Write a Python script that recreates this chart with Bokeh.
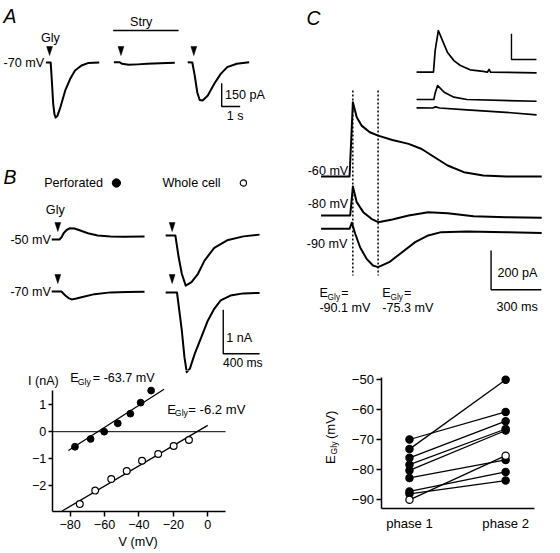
import math
from bokeh.plotting import figure
from bokeh.models import Range1d, Label, FixedTicker
from bokeh.layouts import row, column
from bokeh.embed import file_html
from bokeh.resources import INLINE

FONT = "Liberation Sans"
SX = 544 / 560  # reference-pixel -> screen-pixel scale (horizontal)
SY = 1.0        # vertical

# ---------------- data ----------------
# Panel A: glycine currents at -70 mV (time in s from trace start, current in pA from baseline)
a_ctrl_t = [0, 0.26, 0.32, 0.40, 0.47, 0.53, 0.62, 0.79, 1.05, 1.32, 1.58, 1.93, 2.28, 2.89]
a_ctrl_i = [0, 0, -110, -270, -335, -355, -345, -287, -180, -105, -51, -19, -4, 0]
a_stry_t = [0, 0.3, 0.45, 0.8, 1.3, 1.8, 2.5, 3.3]
a_stry_i = [0, 0, -10, -17, -14, -10, -6, -3]
a_wash_t = [0, 0.25, 0.38, 0.52, 0.65, 0.81, 1.09, 1.44, 1.79, 2.14, 2.66, 3.33]
a_wash_i = [0, -2, -85, -195, -243, -246, -215, -139, -75, -32, -10, 0]

# Panel B traces (time in ms, current in nA)
b_perf50_t = [0, 86, 110, 131, 164, 203, 249, 292, 399, 506, 648, 791, 1022]
b_perf50_i = [0, 0, 0.057, 0.143, 0.216, 0.257, 0.25, 0.22, 0.143, 0.091, 0.068, 0.064, 0.068]
b_perf70_t = [0, 107, 150, 185, 221, 271, 328, 471, 648, 826, 1022]
b_perf70_i = [0, 0, -0.09, -0.15, -0.18, -0.16, -0.13, -0.06, -0.02, -0.01, -0.007]
b_wc50_t = [0, 107, 143, 178, 221, 285, 356, 428, 535, 677, 856, 1034]
b_wc50_i = [0, 0, -0.49, -0.87, -1.14, -1.06, -0.87, -0.57, -0.28, -0.11, -0.02, 0.02]
b_wc70_t = [0, 125, 178, 207, 232, 267, 321, 392, 464, 535, 606, 713, 856, 1034]
b_wc70_i = [0, 0, -0.86, -1.47, -1.81, -1.73, -1.39, -1.02, -0.64, -0.37, -0.18, -0.07, -0.02, -0.01]

# Panel B I-V relation (mV, nA)
iv_perf_v = [-77.2, -68.1, -60.2, -52.3, -45.0, -39.0, -32.9]
iv_perf_i = [-0.56, -0.27, 0.0, 0.31, 0.67, 1.08, 1.53]
iv_wc_v = [-74.4, -65.4, -56.1, -47.1, -38.2, -28.8, -19.8, -10.9]
iv_wc_i = [-2.69, -2.19, -1.76, -1.46, -1.08, -0.83, -0.53, -0.31]
fit_perf_v = [-81.0, -25.4]
fit_perf_i = [-0.70, 1.58]
fit_wc_v = [-84.7, 0.0]
fit_wc_i = [-2.95, 0.234]
iv_xticks = [-80, -60, -40, -20, 0]
iv_yticks = [-2, -1, 0, 1]
iv_vlim = (-90.4, 10.4)
iv_ilim = (-2.97, 1.53)

# Panel C traces (time in ms, current in pA)
c60_t = [0, 170, 180, 190, 213, 242, 291, 341, 426, 523, 601, 678, 756, 853, 969, 1105, 1318]
c60_i = [0, 0, 183, 378, 302, 259, 225, 208, 186, 166, 140, 98, 56, 22, 5, 0, 0]
c80_t = [0, 174, 190, 213, 252, 301, 341, 426, 523, 640, 756, 911, 1105, 1318]
c80_i = [0, 0, 147, 68, 17, -17, -34, -20, 0, 17, 12, -4, -9, -12]
c90_t = [0, 170, 184, 204, 233, 272, 310, 341, 407, 484, 562, 640, 717, 872, 1105, 1318]
c90_i = [0, 0, 31, -25, -94, -153, -187, -195, -170, -119, -68, -34, -17, -14, -17, -22]
ins1_t = [0, 101, 111, 130, 155, 184, 223, 262, 320, 398, 423, 433, 443, 717]
ins1_i = [0, 0, 110, 212, 161, 102, 59, 34, 12, 4, 0, 14, 0, -3]
ins2_t = [0, 103, 112, 126, 165, 223, 301, 717]
ins2_i = [0, 0, 36, 71, 37, 12, 0, -9]
ins3_t = [0, 97, 114, 137, 301, 533, 717]
ins3_i = [0, -1, 5, -1, -11, -23, -36]

# Panel C summary: E_Gly (mV) in phase 1 and phase 2
phases = ["phase 1", "phase 2"]
egly_phase1 = [-73.1, -69.9, -76.0, -78.3, -80.2, -82.7, -87.2, -88.0, -90.0]
egly_phase2 = [-50.0, -60.7, -63.8, -66.4, -66.9, -76.7, -80.7, -83.6, -75.3]
egly_whole_cell = [False, False, False, False, False, False, False, False, True]
egly_yticks = [-90, -80, -70, -60, -50]
egly_xlim = (0.704, 2.303)
egly_ylim = (-93.0, -49.3)

TRACE_W = 2.0


# ---------------- helpers ----------------
class Panel:
    def __init__(self, w, h, rx0, ry0, xcal, ycal, axes=False):
        rw, rh = w / SX, h / SY
        self.rx0, self.ry0, self.rx1, self.ry1 = rx0, ry0, rx0 + rw, ry0 + rh
        xa, va, xb, vb = xcal
        ya, ua, yb, ub = ycal
        self.fx = lambda px: va + (px - xa) * (vb - va) / (xb - xa)
        self.fy = lambda py: ua + (py - ya) * (ub - ua) / (yb - ya)
        kw = {}
        if not axes:
            kw = dict(x_axis_location=None, y_axis_location=None)
        self.p = figure(width=w, height=h,
                        x_range=Range1d(self.fx(rx0), self.fx(rx0 + rw)),
                        y_range=Range1d(self.fy(ry0 + rh), self.fy(ry0)),
                        output_backend="svg", toolbar_location=None,
                        min_border=0, **kw)
        self.p.frame_align = False
        self.p.outline_line_color = None
        self.p.background_fill_color = "white"
        self.p.border_fill_color = "white"
        self.p.xgrid.visible = False
        self.p.ygrid.visible = False


def fs(size):
    return f"{size * SX:.1f}px"


def txt(P, px, py, s, size=13, align="left", style="normal", angle=0.0):
    P.p.add_layout(Label(x=P.fx(px), y=P.fy(py), text=s, text_font=FONT,
                         text_font_size=fs(size), text_font_style=style,
                         text_align=align, text_baseline="middle",
                         angle=angle, text_color="black"))


def seg(P, pts, lw=1.5, dash="solid"):
    P.p.line([P.fx(a) for a, b in pts], [P.fy(b) for a, b in pts],
             line_color="black", line_width=lw, line_dash=dash)


def trace(P, x0, base, t, i, lw=TRACE_W):
    ox, oy = P.fx(x0), P.fy(base)
    P.p.line([ox + v for v in t], [oy + v for v in i], line_color="black",
             line_width=lw, line_join="round")


def arrow(P, cx, tip):
    P.p.patch([P.fx(cx - 3), P.fx(cx + 3), P.fx(cx)],
              [P.fy(tip - 9), P.fy(tip - 9), P.fy(tip)],
              fill_color="black", line_color="black", line_width=0.5)


def style_axes(p, size=13):
    for ax in p.axis:
        ax.axis_line_color = "black"
        ax.axis_line_width = 1.5
        ax.major_tick_line_color = "black"
        ax.major_tick_line_width = 1.5
        ax.major_tick_in = 0
        ax.minor_tick_line_color = None
        ax.major_label_text_font = FONT
        ax.major_label_text_font_size = fs(size)
        ax.major_label_text_color = "black"


# ---------------- Panel A ----------------
A = Panel(272, 160, 0, 0, (227.7, 0, 246.7, 1), (106, 0, 82.7, 150))
trace(A, 46.7, 62, a_ctrl_t, a_ctrl_i)
trace(A, 116.7, 61.7, a_stry_t, a_stry_i)
trace(A, 192.7, 61.7, a_wash_t, a_wash_i)
for cx in (50.5, 124, 199):
    arrow(A, cx, 55)
seg(A, [(116, 30), (183.3, 30)], lw=1.6)
seg(A, [(227.7, 82.7), (227.7, 106), (246.7, 106)], lw=1.4)
txt(A, 3, 15.5, "A", size=20, style="italic")
txt(A, 133.3, 21.5, "Stry")
txt(A, 41.7, 37.5, "Gly")
txt(A, 45, 62.5, "-70 mV", align="right")
txt(A, 231, 94.7, "150 pA")
txt(A, 233, 115.3, "1 s")

# ---------------- Panel B traces ----------------
B = Panel(272, 210, 0, 160, (229.3, 0, 266.7, 400), (353.3, 0, 309.3, 1))
trace(B, 52.7, 239, b_perf50_t, b_perf50_i)
trace(B, 52.7, 291, b_perf70_t, b_perf70_i)
trace(B, 170, 235, b_wc50_t, b_wc50_i)
trace(B, 170, 292, b_wc70_t, b_wc70_i)
for cx in (59, 176.7):
    arrow(B, cx, 231)
    arrow(B, cx, 283)
seg(B, [(229.3, 309.3), (229.3, 353.3), (266.7, 353.3)], lw=1.4)
txt(B, 3, 176.5, "B", size=20, style="italic")
txt(B, 45, 182.5, "Perforated")
B.p.scatter([B.fx(119.3)], [B.fy(182.5)], marker="circle", size=8.5 * SX,
            fill_color="black", line_color="black")
txt(B, 166.7, 182.5, "Whole cell")
B.p.scatter([B.fx(250)], [B.fy(182.5)], marker="circle", size=6.5 * SX,
            fill_color="white", line_color="black", line_width=1.1)
txt(B, 46.7, 209, "Gly")
txt(B, 52, 239.5, "-50 mV", align="right")
txt(B, 52, 291.7, "-70 mV", align="right")
txt(B, 232.5, 337, "1 nA")
txt(B, 229, 362.3, "400 ms", size=12.5)

# ---------------- Panel B I-V ----------------
IV = Panel(272, 183, 0, 370, (71.7, -80, 213.3, 0), (404.3, 1, 485, -2), axes=True)
p = IV.p
# continuation of the whole-cell -70 mV trace (panel B units) across the figure edge
p.extra_x_ranges = {"bt": Range1d(B.fx(IV.rx0), B.fx(IV.rx1))}
p.extra_y_ranges = {"bi": Range1d(B.fy(IV.ry1), B.fy(IV.ry0))}
p.line([B.fx(170) + v for v in b_wc70_t], [B.fy(292) + v for v in b_wc70_i],
       line_color="black", line_width=TRACE_W, line_join="round",
       x_range_name="bt", y_range_name="bi")
style_axes(p)
p.xaxis.ticker = FixedTicker(ticks=iv_xticks)
p.yaxis.ticker = FixedTicker(ticks=iv_yticks)
p.xaxis.fixed_location = iv_ilim[0]
p.yaxis.fixed_location = iv_vlim[0]
p.xaxis.bounds = iv_vlim
p.yaxis.bounds = iv_ilim
p.xaxis.major_tick_out = 5
p.xaxis.major_label_standoff = 3
p.yaxis.major_tick_out = 4
p.yaxis.major_label_standoff = 2
p.line(list(iv_vlim), [0, 0], line_color="black", line_width=1)
p.line(fit_perf_v, fit_perf_i, line_color="black", line_width=1.3)
p.line(fit_wc_v, fit_wc_i, line_color="black", line_width=1.3)
p.scatter(iv_perf_v, iv_perf_i, marker="circle", size=7 * SX, fill_color="black",
          line_color="black")
p.scatter(iv_wc_v, iv_wc_i, marker="circle", size=7 * SX, fill_color="white",
          line_color="black", line_width=1.2)
txt(IV, 28.3, 380, "I (nA)")
txt(IV, 71.7, 377.5, "E", size=13)
txt(IV, 79.5, 381.3, "Gly", size=9)
txt(IV, 95, 377.5, "= -63.7 mV", size=13)
txt(IV, 171.7, 408.5, "E", size=13.5)
txt(IV, 179.5, 412.5, "Gly", size=9)
txt(IV, 193.3, 408.5, "= -6.2 mV", size=13.5)
txt(IV, 141.7, 541, "V (mV)", align="center")

# ---------------- Panel C traces ----------------
C = Panel(272, 330, 280, 0, (505, 0, 556.7, 300), (289.3, 0, 250, 200))
trace(C, 428.3, 71.7, ins1_t, ins1_i, lw=1.7)
trace(C, 428.3, 99, ins2_t, ins2_i, lw=1.7)
trace(C, 428.3, 107.3, ins3_t, ins3_i, lw=1.7)
trace(C, 330, 176, c60_t, c60_i)
trace(C, 330, 215, c80_t, c80_i)
trace(C, 330, 228.3, c90_t, c90_i)
seg(C, [(362.7, 90), (362.7, 275)], lw=1.5, dash="2 2")
seg(C, [(388.7, 90), (388.7, 275)], lw=1.5, dash="2 2")
seg(C, [(526, 33.3), (526, 59), (551.7, 59)], lw=1.4)
seg(C, [(505, 250), (505, 289.3), (556.7, 289.3)], lw=1.4)
txt(C, 315, 17.5, "C", size=20, style="italic")
txt(C, 358, 170.5, "-60 mV", align="right")
txt(C, 358, 203.5, "-80 mV", align="right")
txt(C, 357, 243, "-90 mV", align="right")
txt(C, 511.7, 272.3, "200 pA")
txt(C, 510.7, 306.7, "300 ms")
for x0, val in ((328.3, "-90.1 mV"), (393, "-75.3 mV")):
    txt(C, x0, 292, "E")
    txt(C, x0 + 8.4, 296, "Gly", size=8.5)
    txt(C, x0 + 22.4, 292, "=")
    txt(C, x0, 307.5, val)

# ---------------- Panel C summary ----------------
SC = Panel(272, 223, 280, 330, (421, 1, 520, 2), (379.3, -50, 499.3, -90), axes=True)
p = SC.p
style_axes(p, size=13.5)
p.xaxis.ticker = FixedTicker(ticks=[1, 2])
p.xaxis.major_label_overrides = {1: phases[0], 2: phases[1]}
p.xaxis.fixed_location = egly_ylim[0]
p.yaxis.fixed_location = egly_xlim[0]
p.xaxis.bounds = egly_xlim
p.yaxis.bounds = egly_ylim
p.xaxis.major_tick_line_color = None
p.xaxis.major_tick_out = 0
p.xaxis.major_label_standoff = 7
p.yaxis.ticker = FixedTicker(ticks=egly_yticks)
p.yaxis.major_tick_out = 5
p.yaxis.major_label_standoff = 2
p.segment(x0=[1] * len(egly_phase1), y0=egly_phase1, x1=[2] * len(egly_phase2),
          y1=egly_phase2, line_color="black", line_width=1.3)
for wc in (False, True):
    idx = [k for k, v in enumerate(egly_whole_cell) if v == wc]
    xs = [1] * len(idx) + [2] * len(idx)
    ys = [egly_phase1[k] for k in idx] + [egly_phase2[k] for k in idx]
    p.scatter(xs, ys, marker="circle", size=7.5 * SX,
              fill_color="white" if wc else "black", line_color="black",
              line_width=1.2)
txt(SC, 340, 463.5, "E", size=13.5, angle=math.pi / 2)
txt(SC, 343.5, 454, "Gly", size=9, angle=math.pi / 2)
txt(SC, 340, 438.5, "(mV)", size=13.5, angle=math.pi / 2)

layout = row(column(A.p, B.p, IV.p), column(C.p, SC.p))
open("out.html", "w").write(file_html(layout, INLINE))
